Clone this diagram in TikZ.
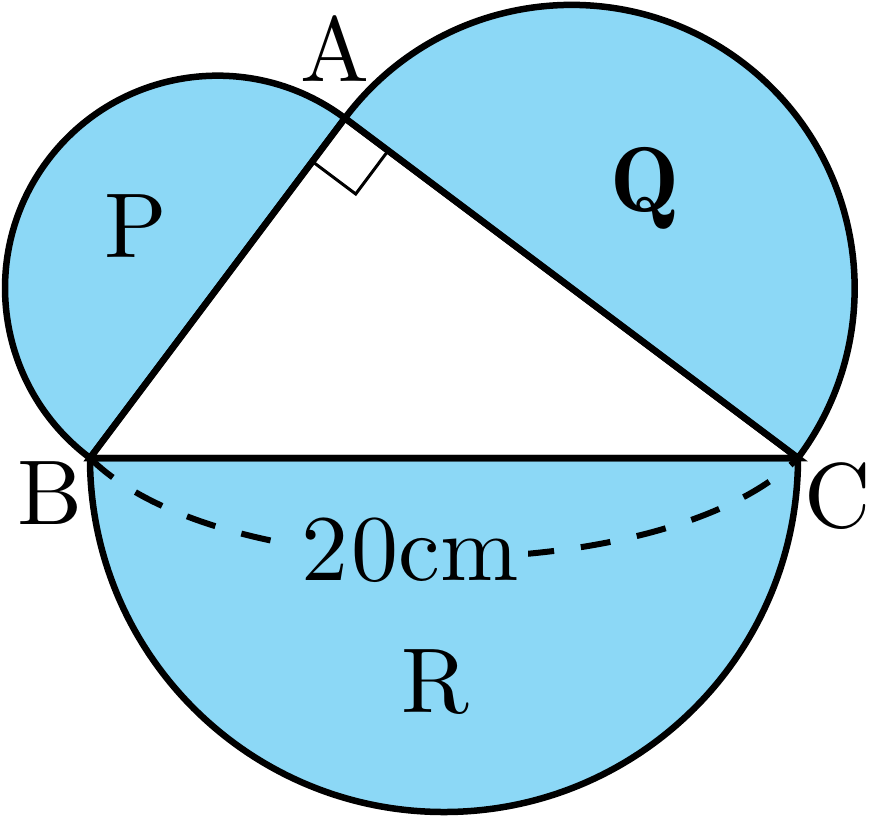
\documentclass[tikz,border=0pt]{standalone}
\usetikzlibrary{calc}
\definecolor{skyfill}{RGB}{140,216,246}
\font\labelrm="[lmroman10-regular]" at 92pt
\font\labeldemi="[lmromandemi10-regular]" at 92pt
\font\lengthrm="[lmroman10-regular]" at 94pt

\begin{document}
\begin{tikzpicture}[x=35.4pt, y=35.4pt,
  outline/.style={black, line width=6.5pt},
  semi/.style={outline, fill=skyfill},
  rightmark/.style={black, line width=3pt},
  dimline/.style={black, line width=6pt, dash pattern=on 30pt off 27pt},
  lbl/.style={font=\labelrm, inner sep=0pt, anchor=base}]
\useasboundingbox (-2.542,-10.17) rectangle (22.034,12.938);
\coordinate (B) at (0,0);
\coordinate (C) at (20,0);
\coordinate (A) at (7.2,9.6);
% semicircles on the sides
\filldraw[semi] (A) arc[start angle=53.13, end angle=233.13, radius=6] -- cycle;
\filldraw[semi] (C) arc[start angle=-36.87, end angle=143.13, radius=8] -- cycle;
\filldraw[semi] (B) arc[start angle=180, end angle=360, radius=10] -- cycle;
% length of BC
\draw[dimline] (B) to[out=-45, in=-135, looseness=0.68] (C);
\node[lbl, font=\lengthrm, fill=skyfill, inner xsep=9pt, inner ysep=5pt] (len) at (9.04,-3.45) {2\kern3pt0cm};
% triangle
\draw[outline] (A) -- (B) -- (C) -- cycle;
\draw[rightmark] ($(A)!0.1275!(B)$) -- ++(1.224,-0.918) -- ($(A)!0.0956!(C)$);
\node[lbl] (a) at (6.92,10.63) {A};
\node[lbl] (b) at (-1.13,-1.89) {B};
\node[lbl] (c) at (21.13,-1.95) {C};
\node[lbl] (p) at (1.30,5.65) {P};
\node[lbl, font=\labeldemi] (q) at (15.68,6.96) {Q};
\node[lbl] (r) at (9.75,-7.20) {R};
\end{tikzpicture}
\end{document}
